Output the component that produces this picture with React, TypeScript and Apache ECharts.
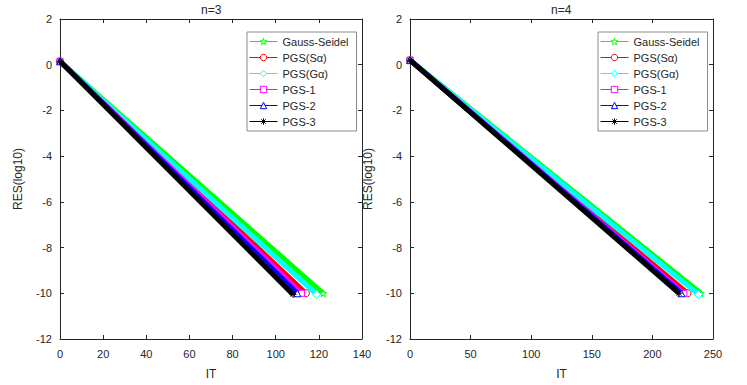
import React, { useEffect, useRef } from "react";
import * as echarts from "echarts";

// ---- data ----
const seriesNames = ["Gauss-Seidel", "PGS(Sα)", "PGS(Gα)", "PGS-1", "PGS-2", "PGS-3"];
const seriesColors = ["#00ff00", "#ff0000", "#00ffff", "#ff00ff", "#0000ff", "#000000"];

// n=3 panel: residual (log10) at IT=0 and at the last iteration
const n3StartRes = [0.15, 0.15, 0.15, 0.15, 0.15, 0.15];
const n3EndIT = [122, 114, 119, 112, 110, 108];
const n3EndRes = [-10.0, -10.0, -10.05, -10.0, -10.0, -10.05];

// n=4 panel
const n4StartRes = [0.2, 0.2, 0.2, 0.2, 0.2, 0.2];
const n4EndIT = [240, 229, 238, 226, 224, 222];
const n4EndRes = [-10.0, -10.0, -10.05, -10.0, -10.0, -10.0];

const yTicks = [-12, -10, -8, -6, -4, -2, 0, 2];
const n3XTicks = [0, 20, 40, 60, 80, 100, 120, 140];
const n4XTicks = [0, 50, 100, 150, 200, 250];
const panelTitles = ["n=3", "n=4"];

const FONT = "Liberation Sans";
const AX = "#262626";

const STAR =
  "path://M0,-10 L2.35,-3.24 L9.51,-3.09 L3.8,1.24 L5.88,8.09 L0,4 L-5.88,8.09 L-3.8,1.24 L-9.51,-3.09 L-2.35,-3.24 Z";
const ASTERISK =
  "path://M0,-10 L0,10 M-10,0 L10,0 M-7,-7 L7,7 M-7,7 L7,-7";
const symbols = [STAR, "circle", "diamond", "rect", "triangle", ASTERISK];
const symbolSizes = [7, 7, 8, 6, 7, 7];

export default function App() {
  const ref = useRef<HTMLDivElement>(null);
  useEffect(() => {
    if (!ref.current) return;
    const chart = echarts.init(ref.current, undefined, { renderer: "svg" });

    const grids = [
      { left: 60, right: 385, top: 19, bottom: 45 },
      { left: 410, right: 34, top: 19, bottom: 45 },
    ];
    const xTicksList = [n3XTicks, n4XTicks];

    const xAxis: any[] = [];
    const yAxis: any[] = [];
    for (let g = 0; g < 2; g++) {
      const xt = xTicksList[g];
      const xBase = {
        gridIndex: g,
        type: "value",
        min: xt[0],
        max: xt[xt.length - 1],
        interval: xt[1] - xt[0],
        splitLine: { show: false },
        axisLine: { show: true, onZero: false, lineStyle: { color: AX, width: 1 } },
        axisTick: { show: true, inside: true, length: 4, lineStyle: { color: AX } },
      };
      xAxis.push({
        ...xBase,
        position: "bottom",
        name: "IT",
        nameLocation: "middle",
        nameGap: 29,
        nameTextStyle: { fontFamily: FONT, fontSize: 12, color: AX },
        axisLabel: { fontFamily: FONT, fontSize: 11, color: AX, margin: 9 },
      });
      xAxis.push({ ...xBase, position: "top", axisLabel: { show: false } });
      const yBase = {
        gridIndex: g,
        type: "value",
        min: yTicks[0],
        max: yTicks[yTicks.length - 1],
        interval: 2,
        splitLine: { show: false },
        axisLine: { show: true, onZero: false, lineStyle: { color: AX, width: 1 } },
        axisTick: { show: true, inside: true, length: 4, lineStyle: { color: AX } },
      };
      yAxis.push({
        ...yBase,
        position: "left",
        name: "RES(log10)",
        nameLocation: "middle",
        nameGap: 36,
        nameTextStyle: { fontFamily: FONT, fontSize: 12, color: AX },
        axisLabel: { fontFamily: FONT, fontSize: 11, color: AX, margin: 8 },
      });
      yAxis.push({ ...yBase, position: "right", axisLabel: { show: false } });
    }

    const panels = [
      { start: n3StartRes, endIT: n3EndIT, endRes: n3EndRes },
      { start: n4StartRes, endIT: n4EndIT, endRes: n4EndRes },
    ];
    const series: any[] = [];
    panels.forEach((p, g) => {
      seriesNames.forEach((name, i) => {
        series.push({
          type: "line",
          name,
          xAxisIndex: g * 2,
          yAxisIndex: g * 2,
          data: [
            [0, p.start[i]],
            [p.endIT[i], p.endRes[i]],
          ],
          symbol: symbols[i],
          symbolSize: symbolSizes[i],
          showSymbol: true,
          lineStyle: { color: seriesColors[i], width: 5 },
          itemStyle: { color: "#ffffff", borderColor: seriesColors[i], borderWidth: 1 },
          z: 2 + i,
        });
      });
    });

    const legendData = seriesNames.map((name, i) => ({
      name,
      itemStyle: { color: "#ffffff", borderColor: seriesColors[i], borderWidth: 1 },
      lineStyle: { color: seriesColors[i], width: 1 },
    }));

    const legendBase = {
      orient: "vertical",
      top: 32,
      padding: [4, 8, 4, 2],
      itemGap: 5,
      itemWidth: 28,
      itemHeight: 8,
      backgroundColor: "#ffffff",
      borderColor: "#8c8c8c",
      borderWidth: 1,
      borderRadius: 0,
      textStyle: { fontFamily: FONT, fontSize: 11, color: AX, lineHeight: 11 },
      lineStyle: { width: 1 },
      data: legendData,
    };

    chart.setOption({
      animation: false,
      backgroundColor: "#ffffff",
      title: [201, 551].map((lx, k) => ({
        text: panelTitles[k],
        left: lx,
        top: 4,
        padding: 0,
        textStyle: { fontFamily: FONT, fontSize: 12, fontWeight: "normal", color: AX, lineHeight: 12 },
      })),
      grid: grids,
      xAxis,
      yAxis,
      series,
      legend: [
        { ...legendBase, left: 247 },
        { ...legendBase, left: 598 },
      ],
    });
    return () => chart.dispose();
  }, []);
  return (
    <div
      ref={ref}
      style={{ position: "absolute", left: 0, top: 0, width: 747, height: 385 }}
    />
  );
}
